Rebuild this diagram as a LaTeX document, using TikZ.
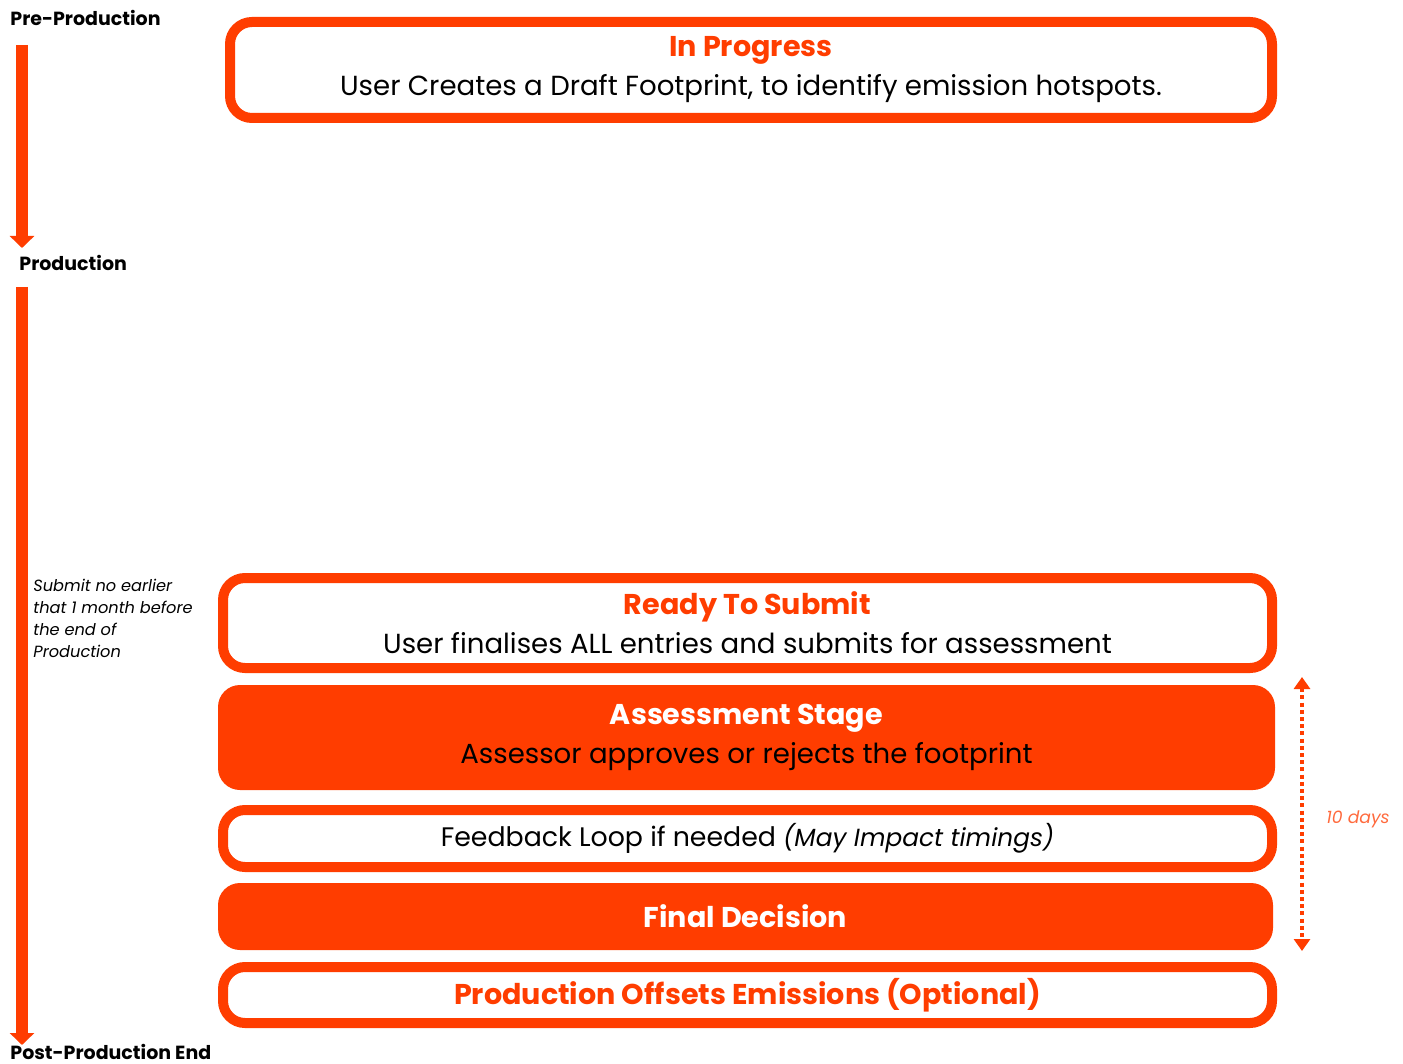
\documentclass[tikz,border=0pt]{standalone}
\usepackage{fontspec}
\setmainfont{Poppins}
\usetikzlibrary{arrows.meta}
\definecolor{flame}{HTML}{FF3D00}
\definecolor{softflame}{HTML}{FF6A3D}

\begin{document}
\begin{tikzpicture}[x=0.5pt,y=-0.5pt,
                    stage/.style={rounded corners=11pt,inner sep=0pt,align=center,
                      font=\fontsize{13.8}{19.5}\selectfont},
                    open stage/.style={stage,draw=flame,line width=5pt,fill=white},
                    solid stage/.style={stage,fill=flame},
                    phase/.style={anchor=west,inner sep=0pt,font=\fontsize{9.5}{11}\selectfont\bfseries},
                    timeline/.style={draw=flame,line width=6pt,-{Triangle[width=12pt,length=6pt]}},
                    heading/.style={font=\fontsize{14.3}{19.5}\selectfont\bfseries}]
	\useasboundingbox (0,0) rectangle (1403,1064);

	% stages
	\node[open stage,minimum width=521pt,minimum height=48pt] (inprog) at (751,70)
		{\textcolor{flame}{\fontsize{14.3}{19.5}\selectfont\bfseries In Progress}\\
		 User Creates a Draft Footprint, to identify emission hotspots.};
	\node[open stage,minimum width=524.5pt,minimum height=45pt] (ready) at (747.5,623)
		{\textcolor{flame}{\fontsize{14.3}{19.5}\selectfont\bfseries Ready To Submit}\\
		 User finalises ALL entries and submits for assessment};
	\node[solid stage,minimum width=528.5pt,minimum height=52.5pt] (assess) at (746.5,737.5)
		{\textcolor{white}{\fontsize{14.3}{19.5}\selectfont\bfseries Assessment Stage}\\
		 Assessor approves or rejects the footprint};
	\node[open stage,minimum width=524.5pt,minimum height=28.5pt,
		font=\fontsize{13.4}{19.5}\selectfont] (feedback) at (747.5,838.5)
		{Feedback Loop if needed {\fontsize{12.4}{15}\selectfont\itshape(May Impact timings)}};
	\node[solid stage,minimum width=527.5pt,minimum height=33.5pt,text=white,heading] (final) at (745.5,916.5)
		{Final Decision};
	\node[open stage,minimum width=524.5pt,minimum height=28pt,text=flame,heading] (offsets) at (747.5,995)
		{Production Offsets Emissions (Optional)};

	% timeline on the left
	\node[phase] (pre) at (10,18) {Pre-Production};
	\node[phase] (prod) at (19,263) {Production};
	\node[phase] (post) at (10,1052) {Post-Production End};
	\coordinate (preEnd) at (22,45);
	\coordinate (prodTop) at (22,248);
	\coordinate (prodEnd) at (22,287);
	\coordinate (postTop) at (22,1045);
	\draw[timeline] (preEnd) -- (prodTop);
	\draw[timeline] (prodEnd) -- (postTop);
	\node[anchor=north west,inner sep=0pt,align=left,
		font=\fontsize{8.1}{11}\selectfont\itshape] (note) at (33,579)
		{Submit no earlier\\that 1 month before\\the end of\\Production};

	% ten day window
	\coordinate (winTop) at (1302,677);
	\coordinate (winEnd) at (1302,951);
	\draw[flame,line width=2pt,dash pattern=on 2pt off 1.6pt,
		{Triangle[width=8pt,length=6pt]}-{Triangle[width=8pt,length=6pt]}]
		(winTop) -- (winEnd);
	\node[text=softflame,font=\fontsize{8.6}{11}\selectfont\itshape] (days) at (1358,819) {10 days};

\end{tikzpicture}
\end{document}
